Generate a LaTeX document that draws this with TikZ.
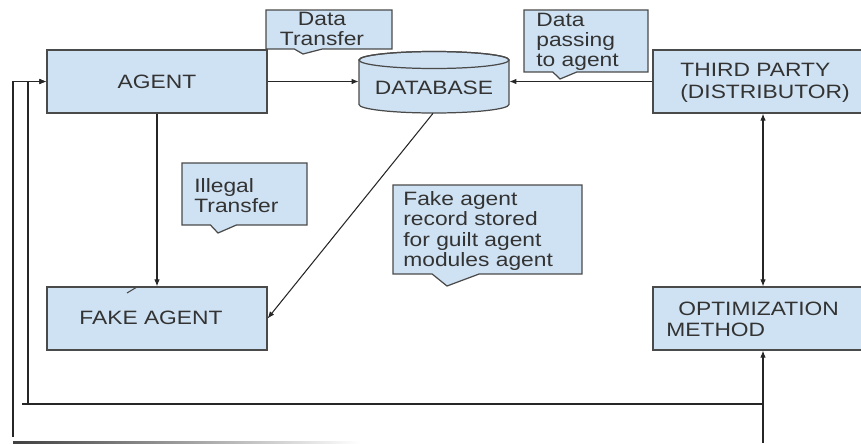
\documentclass[tikz,border=0pt]{standalone}
\usepackage{fontspec}
\setmainfont{Liberation Sans}[FakeStretch=1.18]
\usetikzlibrary{arrows.meta,shapes.callouts}
\definecolor{boxfill}{HTML}{CFE2F3}
\definecolor{boxline}{HTML}{4A4A4A}
\definecolor{ink}{HTML}{333333}
\begin{document}
\begin{tikzpicture}[x=0.02cm,y=-0.02cm,
  box/.style={draw=boxline, fill=boxfill, line width=0.7pt,
    minimum width=4.4cm, minimum height=1.26cm, inner sep=0},
  txt/.style={text=ink, font=\fontsize{11}{11.4}\selectfont, inner sep=0, align=left},
  note/.style={rectangle callout, draw=boxline, fill=boxfill, line width=0.7pt, inner sep=0},
  link/.style={draw=black!85, line width=0.6pt},
  tip/.style={-{Latex[length=1.4mm,width=1.1mm]}},
  tips/.style={{Latex[length=1.4mm,width=1.1mm]}-{Latex[length=1.4mm,width=1.1mm]}}]
\useasboundingbox (0,0) rectangle (861,443);

% process boxes
\node[box] (agent) at (157,81.5) {};
\node[txt] (agentT) at (157,82) {AGENT};
\node[box] (fake) at (157,318.5) {};
\node[txt] (fakeT) at (151,318) {FAKE AGENT};
\node[box] (tp) at (763,81.5) {};
\node[txt, anchor=west, font=\fontsize{11}{12.5}\selectfont] (tpT) at (680,83) {THIRD PARTY\\(DISTRIBUTOR)};
\node[box] (opt) at (763,318.5) {};
\node[txt, anchor=west, font=\fontsize{11}{12}\selectfont] (optT) at (666,319) {\hspace{0.24cm}OPTIMIZATION\\METHOD};

% database cylinder
\node[minimum width=3cm, minimum height=1.22cm, inner sep=0] (db) at (434,82.5) {};
\filldraw[draw=boxline, fill=boxfill, line width=0.7pt]
  (359,60) -- (359,104.5)
  arc[start angle=180, end angle=360, x radius=1.5cm, y radius=0.17cm]
  -- (509,60)
  arc[start angle=0, end angle=180, x radius=1.5cm, y radius=0.17cm] -- cycle;
\draw[draw=boxline, line width=0.7pt] (434,60) ellipse[x radius=1.5cm, y radius=0.17cm];
\node[txt] (dbT) at (434,88) {DATABASE};

% callout notes
\node[note, minimum width=2.52cm, minimum height=0.78cm,
  callout absolute pointer={(303,54)}, callout pointer width=0.56cm] (n1) at (329,29.5) {};
\node[txt, align=center] (n1T) at (322,29) {Data\\Transfer};
\node[note, minimum width=2.48cm, minimum height=1.24cm,
  callout absolute pointer={(560,79)}, callout pointer width=0.48cm] (n2) at (586,41) {};
\node[txt, anchor=west] (n2T) at (536,42) {Data\\passing\\to agent};
\node[note, minimum width=2.5cm, minimum height=1.24cm,
  callout absolute pointer={(218,233)}, callout pointer width=0.52cm] (n3) at (244.5,194) {};
\node[txt, anchor=west] (n3T) at (194,196) {Illegal\\Transfer};
\node[note, minimum width=3.78cm, minimum height=1.78cm,
  callout absolute pointer={(447,286)}, callout pointer width=0.94cm] (n4) at (487.5,229.5) {};
\node[txt, anchor=west] (n4T) at (403,231) {Fake agent\\record stored\\for guilt agent\\modules agent};

% connectors
\draw[link, tip] (agent.east) -- (agent.east -| db.west);
\draw[link, tip] (tp.west) -- (tp.west -| db.east);
\draw[link, tip] (agent.south) -- (fake.north);
\draw[link, tip] ([xshift=-0.02cm]db.south) -- (fake.east);
\draw[link, tips] (tp.south) -- (opt.north);

% feedback loop along the bottom
\coordinate (bot) at (763,443);
\coordinate (join) at (763,404);
\coordinate (leftEnd) at (22,404);
\coordinate (inner) at (28,404);
\coordinate (outer) at (13,437);
\draw[link, tip] (bot) -- (opt.south);
\draw[link] (join) -- (leftEnd);
\draw[link, tip] (inner) |- (agent.west);
\draw[link, tip] (outer) |- (agent.west);

% small stroke on the fake agent box
\draw[draw=boxline, line width=0.6pt] (127,293) -- (137,287);

% faded rule at the bottom edge
\shade[left color=black!75, right color=white] (13,441) rectangle (360,443);
\end{tikzpicture}
\end{document}
